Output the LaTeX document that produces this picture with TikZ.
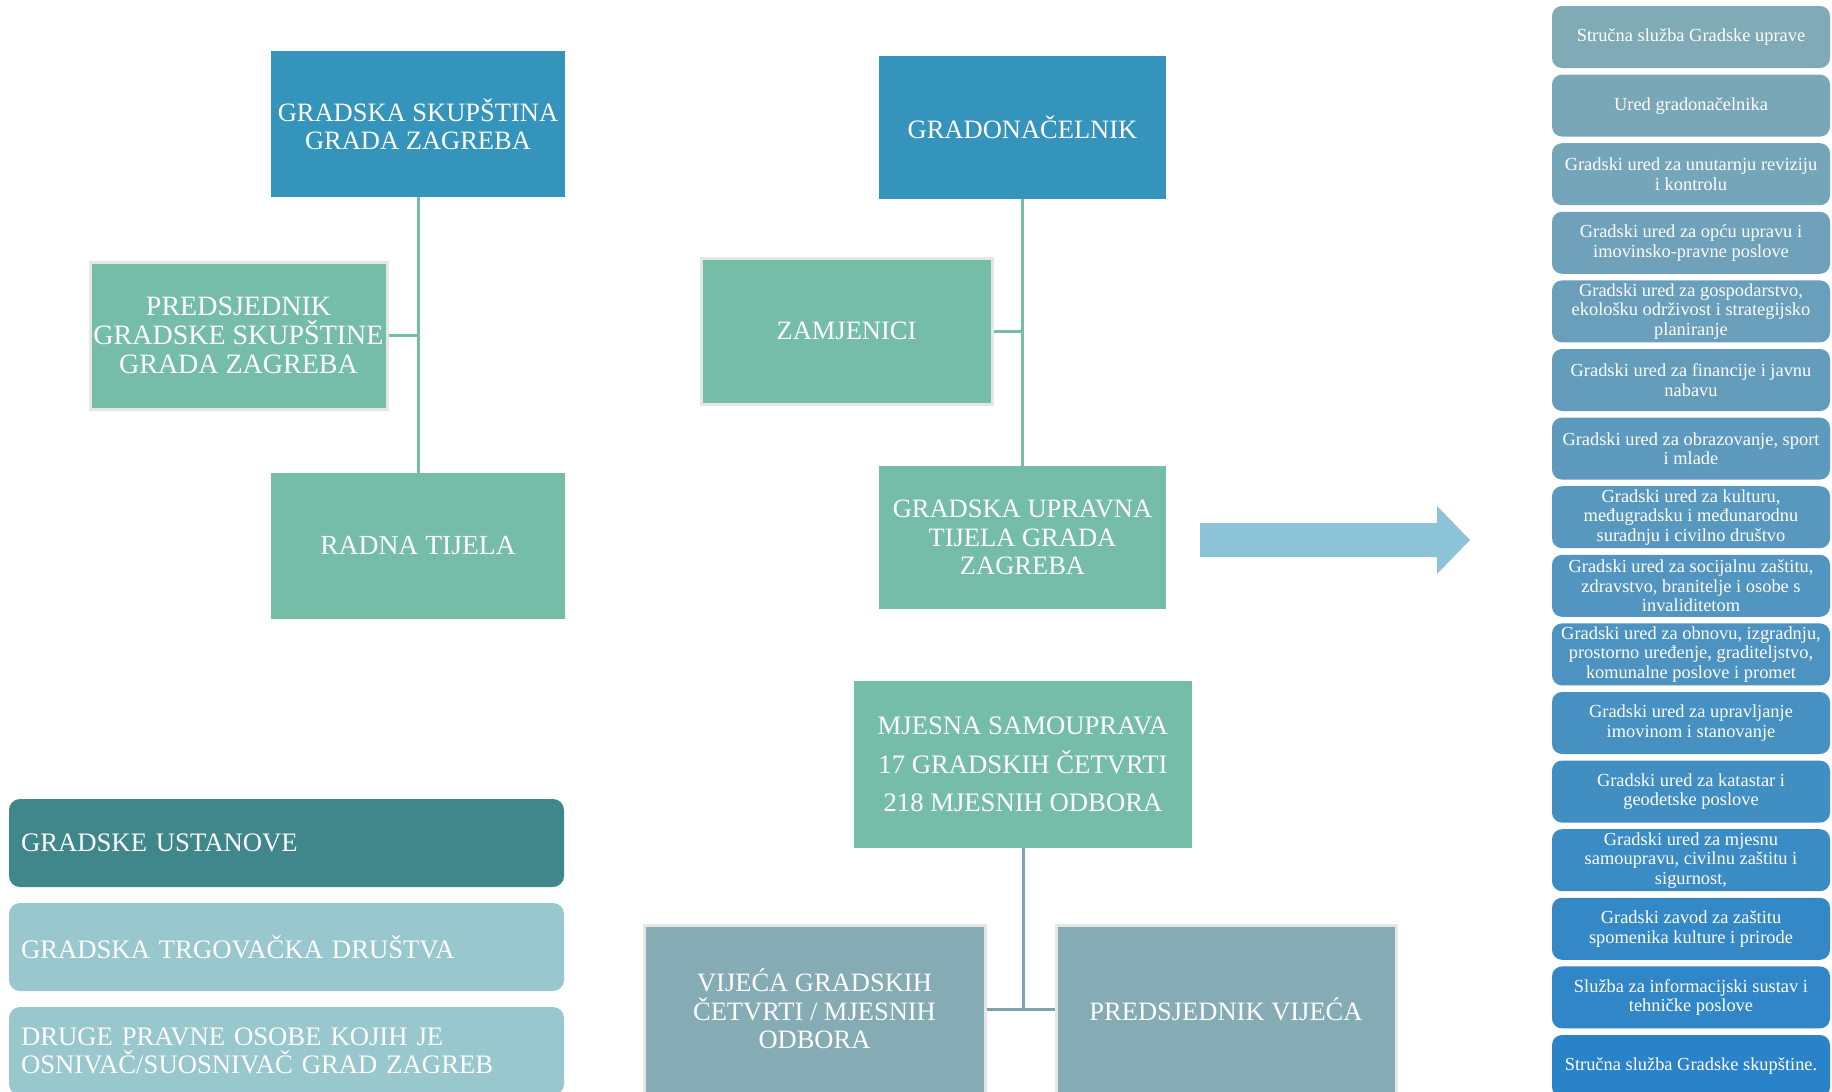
\documentclass[tikz,border=0pt]{standalone}
\usepackage{fontspec}
\setmainfont{Liberation Serif}
\definecolor{cBlue}{HTML}{3594BC}
\definecolor{cGreen}{HTML}{76BDA7}
\definecolor{cGrayBlue}{HTML}{85ACB5}
\definecolor{cDark}{HTML}{3F878A}
\definecolor{cLight}{HTML}{98C7CD}
\definecolor{cArrow}{HTML}{8DC3D9}
\definecolor{cBorder}{HTML}{E6E6E6}
\definecolor{rA}{HTML}{80AAB6}
\definecolor{rB}{HTML}{2A83C8}
\tikzset{
  mainbox/.style={draw=none, text=white, align=center, inner sep=0pt,
    font=\fontsize{26.5}{28.5}\selectfont},
  bordered/.style={draw=cBorder, line width=3pt},
  leftbox/.style={rounded corners=11pt, text=white, align=left, inner xsep=12pt, inner ysep=0pt,
    text width=531pt, minimum height=88pt, font=\fontsize{26.7}{28.5}\selectfont},
  rbox/.style={rounded corners=10pt, text=white, align=center, inner sep=0pt,
    minimum width=278pt, minimum height=62pt, font=\fontsize{18.4}{19.6}\selectfont},
  gline/.style={draw=cGreen, line width=3pt},
  bline/.style={draw=cGrayBlue!95!black, line width=3pt},
}
\begin{document}
\begin{tikzpicture}[x=1pt,y=-1pt]
\useasboundingbox (0,0) rectangle (1832,1092);
\clip (0,0) rectangle (1832,1092);
\fill[white] (0,0) rectangle (1832,1092);

% left hierarchy
\node[mainbox, fill=cBlue, minimum width=294pt, minimum height=146pt] (gs) at (418,124) {GRADSKA SKUPŠTINA\\GRADA ZAGREBA};
\node[mainbox, bordered, fill=cGreen, minimum width=297pt, minimum height=147pt,
      font=\fontsize{28}{29}\selectfont] (pred) at (238.5,335.5) {PREDSJEDNIK\\GRADSKE SKUPŠTINE\\GRADA ZAGREBA};
\node[mainbox, fill=cGreen, minimum width=294pt, minimum height=146pt,
      font=\fontsize{27.6}{29}\selectfont] (radna) at (418,546) {RADNA TIJELA};

% middle hierarchy
\node[mainbox, fill=cBlue, minimum width=287pt, minimum height=143pt] (grad) at (1022.5,127.5) {GRADONAČELNIK};
\node[mainbox, bordered, fill=cGreen, minimum width=291pt, minimum height=146pt] (zam) at (846.5,331) {ZAMJENICI};
\node[mainbox, fill=cGreen, minimum width=287pt, minimum height=143pt] (upr) at (1022.5,537.5) {GRADSKA UPRAVNA\\TIJELA GRADA\\ZAGREBA};

% local self-government
\node[mainbox, fill=cGreen, minimum width=338pt, minimum height=167pt,
      font=\fontsize{26.7}{38.6}\selectfont] (mjesna) at (1023,764.5) {MJESNA SAMOUPRAVA\\17 GRADSKIH ČETVRTI\\218 MJESNIH ODBORA};
\node[mainbox, bordered, fill=cGrayBlue, minimum width=341pt, minimum height=168pt] (vij) at (814.5,1009) {VIJEĆA GRADSKIH\\ČETVRTI / MJESNIH\\ODBORA};
\node[mainbox, bordered, fill=cGrayBlue, minimum width=340pt, minimum height=168pt] (pvij) at (1226,1009) {PREDSJEDNIK VIJEĆA};

% bottom-left boxes
\node[leftbox, fill=cDark] (ust) at (286.5,843) {GRADSKE USTANOVE};
\node[leftbox, fill=cLight] (trg) at (286.5,947) {GRADSKA TRGOVAČKA DRUŠTVA};
\node[leftbox, fill=cLight] (druge) at (286.5,1051) {DRUGE PRAVNE OSOBE KOJIH JE\\OSNIVAČ/SUOSNIVAČ GRAD ZAGREB};

% connectors
\draw[gline] (gs.south) -- (radna.north);
\draw[gline] (pred.east) -- (pred.east -| gs.south);
\draw[gline] (grad.south) -- (upr.north);
\draw[gline] (zam.east) -- (zam.east -| grad.south);
\draw[bline] (mjesna.south) -- (mjesna.south |- vij.east);
\draw[bline] (vij.east) -- (pvij.west);

% big arrow
\fill[cArrow] (1200,523) -- (1437,523) -- (1437,506) -- (1470,540) -- (1437,574) -- (1437,557) -- (1200,557) -- cycle;

% right column
\node[rbox, fill=rB!0!rA]   (r1)  at (1691,37)     {Stručna služba Gradske uprave};
\node[rbox, fill=rB!7!rA]   (r2)  at (1691,105.6)  {Ured gradonačelnika};
\node[rbox, fill=rB!13!rA]  (r3)  at (1691,174.2)  {Gradski ured za unutarnju reviziju\\i kontrolu};
\node[rbox, fill=rB!20!rA]  (r4)  at (1691,242.8)  {Gradski ured za opću upravu i\\imovinsko-pravne poslove};
\node[rbox, fill=rB!27!rA]  (r5)  at (1691,311.4)  {Gradski ured za gospodarstvo,\\ekološku održivost i strategijsko\\planiranje};
\node[rbox, fill=rB!33!rA]  (r6)  at (1691,380)    {Gradski ured za financije i javnu\\nabavu};
\node[rbox, fill=rB!40!rA]  (r7)  at (1691,448.6)  {Gradski ured za obrazovanje, sport\\i mlade};
\node[rbox, fill=rB!47!rA]  (r8)  at (1691,517.2)  {Gradski ured za kulturu,\\međugradsku i međunarodnu\\suradnju i civilno društvo};
\node[rbox, fill=rB!53!rA]  (r9)  at (1691,585.8)  {Gradski ured za socijalnu zaštitu,\\zdravstvo, branitelje i osobe s\\invaliditetom};
\node[rbox, fill=rB!60!rA]  (r10) at (1691,654.4)  {Gradski ured za obnovu, izgradnju,\\prostorno uređenje, graditeljstvo,\\komunalne poslove i promet};
\node[rbox, fill=rB!67!rA]  (r11) at (1691,723)    {Gradski ured za upravljanje\\imovinom i stanovanje};
\node[rbox, fill=rB!73!rA]  (r12) at (1691,791.6)  {Gradski ured za katastar i\\geodetske poslove};
\node[rbox, fill=rB!80!rA]  (r13) at (1691,860.2)  {Gradski ured za mjesnu\\samoupravu, civilnu zaštitu i\\sigurnost,};
\node[rbox, fill=rB!87!rA]  (r14) at (1691,928.8)  {Gradski zavod za zaštitu\\spomenika kulture i prirode};
\node[rbox, fill=rB!93!rA]  (r15) at (1691,997.4)  {Služba za informacijski sustav i\\tehničke poslove};
\node[rbox, fill=rB!100!rA] (r16) at (1691,1066)   {Stručna služba Gradske skupštine.};
\end{tikzpicture}
\end{document}
